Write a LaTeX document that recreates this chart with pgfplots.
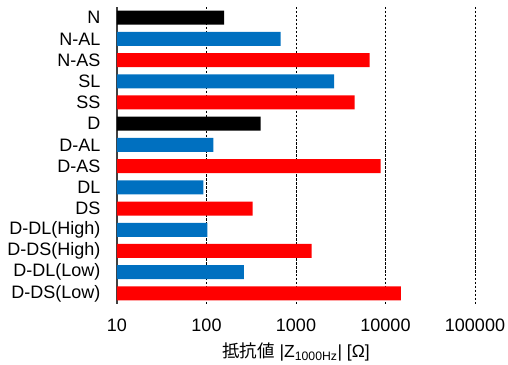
\documentclass[border=0pt]{standalone}
\usepackage{pgfplots}
\pgfplotsset{compat=1.18}
\usepackage{fontspec}
\setmainfont{Liberation Sans}
\newfontfamily\cjk{Noto Sans CJK JP}
\definecolor{cblue}{RGB}{0,112,192}
\definecolor{cred}{RGB}{255,0,0}
\begin{document}
\begin{tikzpicture}
\path[use as bounding box] (-117bp,-61bp) rectangle (391bp,304bp);
\begin{axis}[
  at={(0,0)}, anchor=south west,
  scale only axis, width=358bp, height=297bp,
  xmode=log, log basis x=10, log origin x=infty,
  xmin=10, xmax=100000,
  ymin=-0.5, ymax=13.5, y dir=reverse,
  xbar, bar width=14bp, bar shift=0pt,
  xtick={10,100,1000,10000,100000},
  xticklabels={10,100,1000,10000,100000},
  ytick={0,...,13},
  yticklabels={N,N-AL,N-AS,SL,SS,D,D-AL,D-AS,DL,DS,D-DL(High),D-DS(High),D-DL(Low),D-DS(Low)},
  major tick length=0pt,
  xmajorgrids, ymajorgrids=false,
  major grid style={black, dash pattern=on 2.5pt off 1.5pt, line width=0.6pt},
  axis x line*=bottom,
  x axis line style={draw=none},
  axis y line*=left,
  y axis line style={draw=black!75, line width=1.2pt, -},
  tick label style={font=\fontsize{18bp}{21bp}\selectfont},
  xticklabel style={yshift=-11.5bp},
  yticklabel style={xshift=-13bp},
  xlabel={{\cjk 抵抗値} |Z\textsubscript{1000Hz}| [Ω]},
  xlabel style={at={(axis description cs:0.5,0)}, anchor=center, yshift=-48bp, font=\fontsize{17.5bp}{20bp}\selectfont},
  clip=true,
]
\addplot[draw=none, fill=black] coordinates {(157,0) (403,5)};
\addplot[draw=none, fill=cblue] coordinates {(675,1) (2660,3) (119,6) (92,8) (102,10) (262,12)};
\addplot[draw=none, fill=cred] coordinates {(6660,2) (4530,4) (8830,7) (328,9) (1497,11) (14900,13)};
\end{axis}
\end{tikzpicture}
\end{document}
